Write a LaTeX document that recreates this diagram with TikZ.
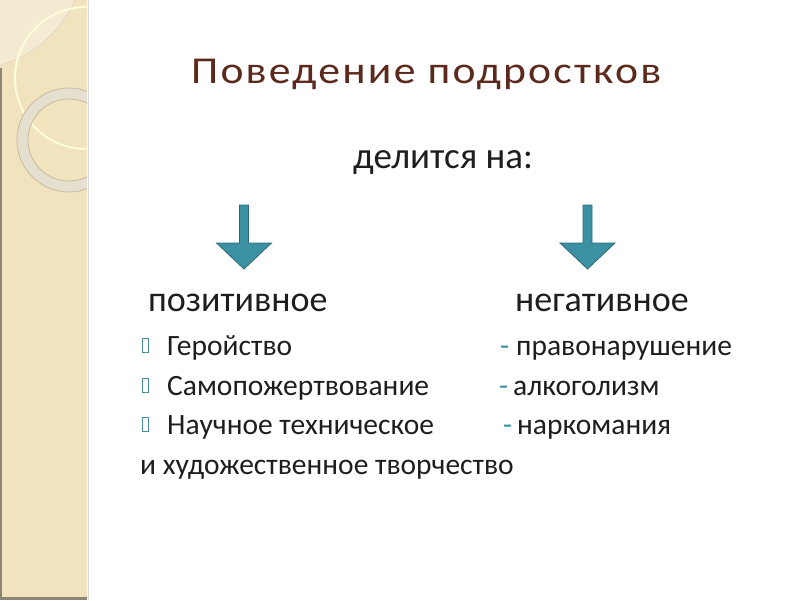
\documentclass[tikz,border=0pt]{standalone}
\usepackage{fontspec}
\usepackage{graphicx}
\setmainfont{Carlito}
\newfontfamily\titlefont[LetterSpace=5]{Carlito}
\usetikzlibrary{positioning}
\definecolor{titlebrown}{HTML}{5C2A1C}
\definecolor{arrowteal}{HTML}{3B90A1}
\definecolor{arrowedge}{HTML}{2C6C7A}
\definecolor{stripbeige}{HTML}{F1E3BD}
\definecolor{stripedge}{HTML}{8C8474}
\definecolor{ringgray}{HTML}{E4DFD2}
\definecolor{ringedge}{HTML}{C9BC9E}
\definecolor{paleleaf}{HTML}{F5EBD2}
\definecolor{bodytext}{HTML}{1E1E1E}

\begin{document}
\begin{tikzpicture}[x=1pt, y=-1pt, >=stealth,
		item/.style={anchor=base west, inner sep=0pt, text=bodytext, font=\fontsize{29.5}{35}\selectfont},
		head/.style={item, font=\fontsize{36}{43}\selectfont},
		dashmark/.style={item, text=arrowteal}]
		\def\sw{88}\def\hw{27.5}\def\sh{4.5}
		\useasboundingbox (0,0) rectangle (800,600);
		\fill[white] (0,0) rectangle (800,600);
		% side strip with rings
		\fill[stripbeige] (0,0) rectangle (\sw,600);
		\begin{scope}
			\clip (0,0) rectangle (\sw,600);
			\fill[paleleaf, draw=ringedge!70] (-30,-45) circle (114);
			\draw[white!85!yellow, line width=2] (86,78) circle (71);
			\draw[ringgray, opacity=0.9, line width=11] (69,140) circle (46.5);
			\draw[ringedge, line width=0.8] (69,140) circle (52) (69,140) circle (41);
		\end{scope}
		\fill[stripedge] (0,68) rectangle (1.5,600);
		\fill[stripedge] (0,597) rectangle (\sw,600);
		\draw[white!80!stripbeige, line width=1.5] (\sw-0.75,0) -- (\sw-0.75,600);
		\draw[black!15, line width=1] (\sw+0.5,0) -- (\sw+0.5,600);
		% title
		\node[anchor=base west, inner sep=0pt, text=titlebrown, font=\titlefont\fontsize{38}{45}\selectfont] (title) at (191,83) {\scalebox{1.15}[1]{Поведение подростков}};
		\node[head, font=\fontsize{37}{44}\selectfont] (divides) at (353,168) {делится на:};
		% block arrows
		\foreach \ax/\nm in {244/left, 587.5/right} {
			\coordinate (arr-\nm) at (\ax,205);
			\draw[arrowedge, fill=arrowteal, line width=0.8]
				(\ax-\sh,205) -- (\ax+\sh,205) -- (\ax+\sh,243) -- (\ax+\hw,243)
				-- (\ax,269) -- (\ax-\hw,243) -- (\ax-\sh,243) -- cycle;
		}
		% two columns
		\node[head] (pos) at (148,311) {позитивное};
		\node[head] (neg) at (515,311) {негативное};
		\foreach \yy/\nm/\txt in {355/p1/Геройство, 395/p2/Самопожертвование, 434/p3/Научное техническое} {
			\draw[arrowteal!80!gray, line width=0.8] (142.5,\yy-16.5) rectangle (148.5,\yy-2.5);
			\node[item] (\nm) at (167,\yy) {\txt};
		}
		\node[item] (p4) at (140,474) {и художественное творчество};
		\node[dashmark] (d1) at (500,355) {-};
		\node[item] (n1) at (516,355) {правонарушение};
		\node[dashmark] (d2) at (499,395) {-};
		\node[item] (n2) at (513,395) {алкоголизм};
		\node[dashmark] (d3) at (503,434) {-};
		\node[item] (n3) at (517,434) {наркомания};
	\end{tikzpicture}
\end{document}
